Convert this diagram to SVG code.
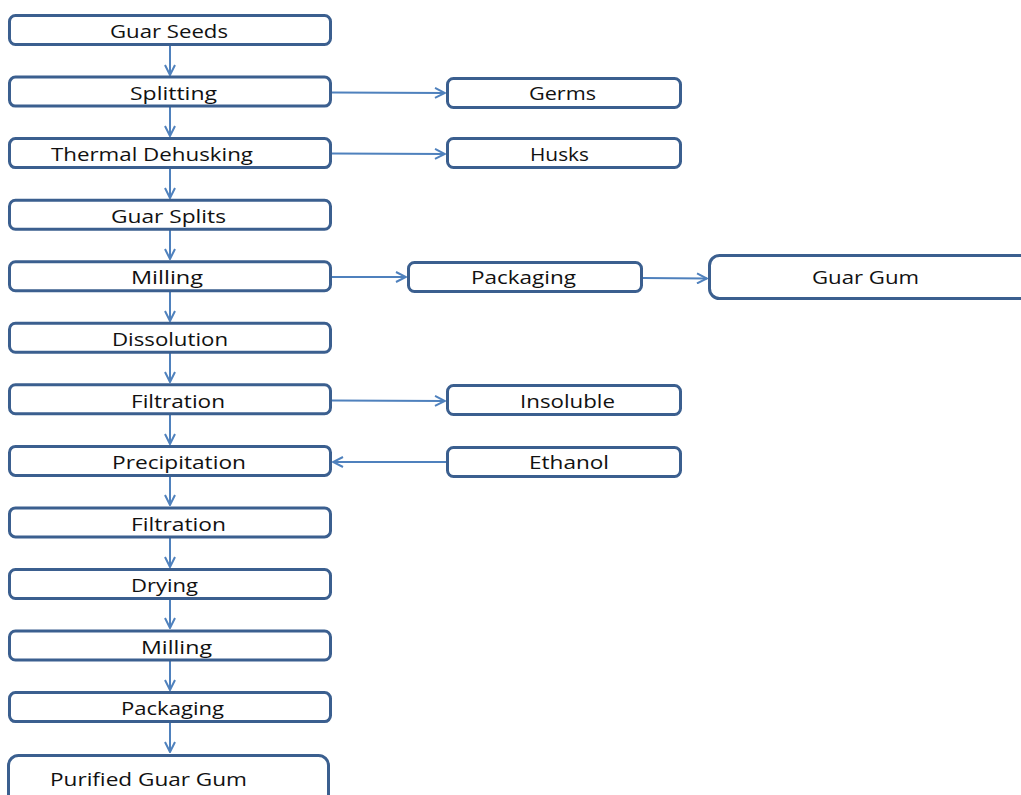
<svg xmlns="http://www.w3.org/2000/svg" width="1021" height="795" viewBox="0 0 1021 795">
<style>
.box{fill:#ffffff;stroke:#3b5f8f;stroke-width:3}
.t{font-family:"Open Sans","Liberation Sans",sans-serif;font-size:18px;fill:#111111}
.c{fill:none;stroke:#4f81bd;stroke-width:2}
</style>
<defs>
<marker id="ah" viewBox="0 0 12 12" refX="11" refY="6" markerWidth="12" markerHeight="12" markerUnits="userSpaceOnUse" orient="auto">
<path d="M1,1 L11,6 L1,11" fill="none" stroke="#4f81bd" stroke-width="2"/>
</marker>
</defs>
<rect width="1021" height="795" fill="#ffffff"/>
<g id="connectors">
<line class="c" x1="170" y1="46" x2="170" y2="75" marker-end="url(#ah)"/>
<line class="c" x1="170" y1="107" x2="170" y2="136" marker-end="url(#ah)"/>
<line class="c" x1="170" y1="169" x2="170" y2="198" marker-end="url(#ah)"/>
<line class="c" x1="170" y1="230" x2="170" y2="259" marker-end="url(#ah)"/>
<line class="c" x1="170" y1="292" x2="170" y2="321" marker-end="url(#ah)"/>
<line class="c" x1="170" y1="353" x2="170" y2="382" marker-end="url(#ah)"/>
<line class="c" x1="170" y1="415" x2="170" y2="444" marker-end="url(#ah)"/>
<line class="c" x1="170" y1="476" x2="170" y2="505" marker-end="url(#ah)"/>
<line class="c" x1="170" y1="538" x2="170" y2="567" marker-end="url(#ah)"/>
<line class="c" x1="170" y1="599" x2="170" y2="628" marker-end="url(#ah)"/>
<line class="c" x1="170" y1="661" x2="170" y2="690" marker-end="url(#ah)"/>
<line class="c" x1="170" y1="722" x2="170" y2="752" marker-end="url(#ah)"/>
<line class="c" x1="332" y1="92.5" x2="445" y2="93" marker-end="url(#ah)"/>
<line class="c" x1="332" y1="153.5" x2="445" y2="154" marker-end="url(#ah)"/>
<line class="c" x1="332" y1="277" x2="406" y2="277" marker-end="url(#ah)"/>
<line class="c" x1="643" y1="278" x2="707" y2="278.5" marker-end="url(#ah)"/>
<line class="c" x1="332" y1="400.5" x2="445" y2="401" marker-end="url(#ah)"/>
<line class="c" x1="446" y1="462" x2="333" y2="462" marker-end="url(#ah)"/>
</g>
<g id="n1"><rect class="box" x="9.5" y="15.5" width="321" height="29" rx="6"/><text class="t" x="110" y="38" textLength="118" lengthAdjust="spacingAndGlyphs">Guar Seeds</text></g>
<g id="n2"><rect class="box" x="9.5" y="77.1" width="321" height="29" rx="6"/><text class="t" x="130" y="100" textLength="87" lengthAdjust="spacingAndGlyphs">Splitting</text></g>
<g id="n3"><rect class="box" x="9.5" y="138.6" width="321" height="29" rx="6"/><text class="t" x="51" y="161" textLength="202" lengthAdjust="spacingAndGlyphs">Thermal Dehusking</text></g>
<g id="n4"><rect class="box" x="9.5" y="200.2" width="321" height="29" rx="6"/><text class="t" x="111" y="223" textLength="115" lengthAdjust="spacingAndGlyphs">Guar Splits</text></g>
<g id="n5"><rect class="box" x="9.5" y="261.7" width="321" height="29" rx="6"/><text class="t" x="131" y="284" textLength="72" lengthAdjust="spacingAndGlyphs">Milling</text></g>
<g id="n6"><rect class="box" x="9.5" y="323.3" width="321" height="29" rx="6"/><text class="t" x="112" y="346" textLength="116" lengthAdjust="spacingAndGlyphs">Dissolution</text></g>
<g id="n7"><rect class="box" x="9.5" y="384.8" width="321" height="29" rx="6"/><text class="t" x="131" y="408" textLength="94" lengthAdjust="spacingAndGlyphs">Filtration</text></g>
<g id="n8"><rect class="box" x="9.5" y="446.4" width="321" height="29" rx="6"/><text class="t" x="112" y="469" textLength="134" lengthAdjust="spacingAndGlyphs">Precipitation</text></g>
<g id="n9"><rect class="box" x="9.5" y="507.9" width="321" height="29" rx="6"/><text class="t" x="131" y="531" textLength="95" lengthAdjust="spacingAndGlyphs">Filtration</text></g>
<g id="n10"><rect class="box" x="9.5" y="569.5" width="321" height="29" rx="6"/><text class="t" x="131" y="592" textLength="67" lengthAdjust="spacingAndGlyphs">Drying</text></g>
<g id="n11"><rect class="box" x="9.5" y="631" width="321" height="29" rx="6"/><text class="t" x="141" y="654" textLength="71" lengthAdjust="spacingAndGlyphs">Milling</text></g>
<g id="n12"><rect class="box" x="9.5" y="692.6" width="321" height="29" rx="6"/><text class="t" x="121" y="715" textLength="103" lengthAdjust="spacingAndGlyphs">Packaging</text></g>
<g id="n13"><rect class="box" x="8.5" y="755.5" width="320" height="60" rx="10"/><text class="t" x="50" y="786" textLength="197" lengthAdjust="spacingAndGlyphs">Purified Guar Gum</text></g>
<g id="n14"><rect class="box" x="447.5" y="78.5" width="233" height="29" rx="6"/><text class="t" x="529" y="100" textLength="67" lengthAdjust="spacingAndGlyphs">Germs</text></g>
<g id="n15"><rect class="box" x="447.5" y="138.5" width="233" height="29" rx="6"/><text class="t" x="530" y="161" textLength="59" lengthAdjust="spacingAndGlyphs">Husks</text></g>
<g id="n16"><rect class="box" x="408.5" y="262.5" width="233" height="29" rx="6"/><text class="t" x="471" y="284" textLength="105" lengthAdjust="spacingAndGlyphs">Packaging</text></g>
<g id="n17"><rect class="box" x="709.5" y="255.5" width="330" height="43" rx="10"/><text class="t" x="812" y="284" textLength="107" lengthAdjust="spacingAndGlyphs">Guar Gum</text></g>
<g id="n18"><rect class="box" x="447.5" y="385.5" width="233" height="29" rx="6"/><text class="t" x="520" y="408" textLength="95" lengthAdjust="spacingAndGlyphs">Insoluble</text></g>
<g id="n19"><rect class="box" x="447.5" y="447.5" width="233" height="29" rx="6"/><text class="t" x="529" y="469" textLength="80" lengthAdjust="spacingAndGlyphs">Ethanol</text></g>
</svg>
